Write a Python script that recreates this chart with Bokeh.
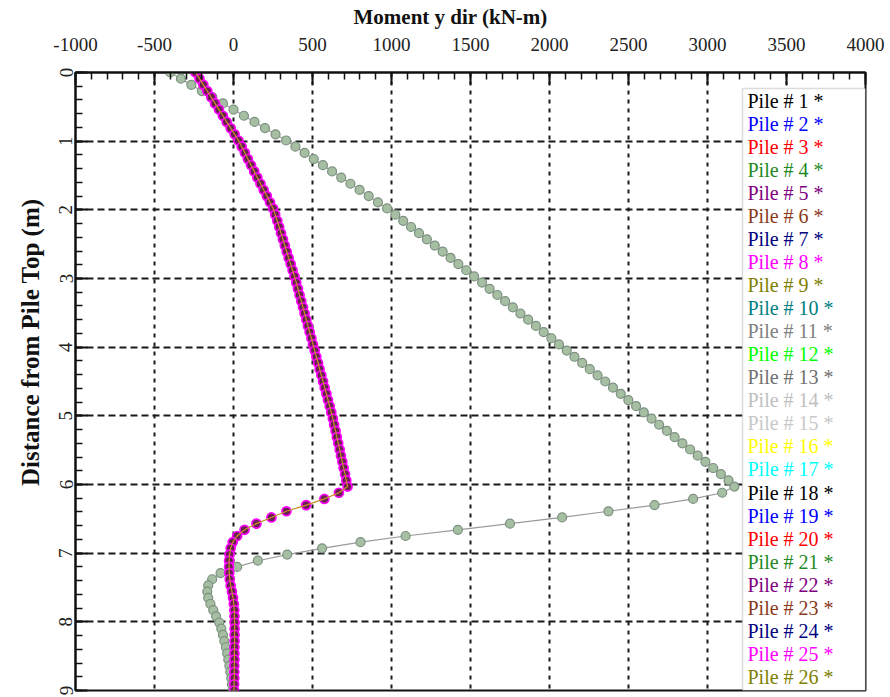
from bokeh.plotting import figure
from bokeh.models import Range1d, SingleIntervalTicker, BoxAnnotation, ColumnDataSource, PrintfTickFormatter, Title
from bokeh.core.properties import value
from bokeh.embed import file_html
from bokeh.resources import INLINE

# ---------------- data ----------------
depth_m = [0.00, 0.09, 0.18, 0.27, 0.36, 0.45, 0.54, 0.63, 0.72, 0.81,
           0.90, 0.99, 1.08, 1.17, 1.26, 1.35, 1.44, 1.53, 1.62, 1.71,
           1.80, 1.89, 1.98, 2.07, 2.16, 2.25, 2.34, 2.43, 2.52, 2.61,
           2.70, 2.79, 2.88, 2.97, 3.06, 3.15, 3.24, 3.33, 3.42, 3.51,
           3.60, 3.69, 3.78, 3.87, 3.96, 4.05, 4.14, 4.23, 4.32, 4.41,
           4.50, 4.59, 4.68, 4.77, 4.86, 4.95, 5.04, 5.13, 5.22, 5.31,
           5.40, 5.49, 5.58, 5.67, 5.76, 5.85, 5.94, 6.03, 6.12, 6.21,
           6.30, 6.39, 6.48, 6.57, 6.66, 6.75, 6.84, 6.93, 7.02, 7.11,
           7.20, 7.29, 7.38, 7.47, 7.56, 7.65, 7.74, 7.83, 7.92, 8.01,
           8.10, 8.19, 8.28, 8.37, 8.46, 8.55, 8.64, 8.73, 8.82, 8.91, 9.00]

# piles following the large-moment profile (grey-green markers)
moment_group_b = [-400, -333, -267, -200, -134, -67, 0, 66, 133, 199,
                  266, 333, 392, 450, 508, 566, 624, 682, 740, 798,
                  856, 914, 972, 1024, 1074, 1124, 1174, 1224, 1274, 1324,
                  1374, 1423, 1473, 1523, 1573, 1621, 1670, 1719, 1768, 1816,
                  1865, 1914, 1963, 2012, 2060, 2109, 2158, 2207, 2255, 2304,
                  2353, 2402, 2451, 2499, 2548, 2597, 2646, 2694, 2743, 2792,
                  2841, 2890, 2938, 2987, 3036, 3085, 3133, 3170, 3093, 2909,
                  2665, 2373, 2080, 1750, 1420, 1089, 804, 561, 340, 154,
                  23, -82, -135, -160, -166, -160, -146, -128, -110, -90,
                  -77, -67, -58, -48, -40, -33, -26, -20, -14, -10, -6]

# piles following the smaller-moment profile (magenta markers)
moment_group_a = [-240, -215, -191, -166, -141, -117, -92, -67, -43, -18,
                  7, 31, 52, 72, 91, 111, 131, 151, 171, 191,
                  211, 231, 251, 264, 277, 289, 301, 313, 325, 337,
                  349, 362, 374, 386, 397, 408, 418, 429, 440, 450,
                  461, 471, 482, 493, 503, 514, 524, 535, 545, 556,
                  567, 577, 588, 598, 609, 619, 629, 637, 646, 654,
                  663, 672, 680, 689, 697, 706, 714, 722, 667, 575,
                  460, 335, 240, 145, 70, 23, -5, -18, -25, -28,
                  -28, -27, -24, -18, -10, -3, 2, 5, 6, 7,
                  7, 7, 7, 6, 6, 6, 5, 5, 5, 4, 4]

pile_numbers = list(range(1, 27))
pile_labels = ["Pile # %d *" % n for n in pile_numbers]
pile_colors = ["#000000", "#0000ff", "#ff0000", "#1f8a1f", "#800080", "#8b3a1a",
               "#000080", "#ff00ff", "#808000", "#008080", "#808080", "#00ff00",
               "#707070", "#c0c0c0", "#c8c8c8", "#ffff00", "#00ffff",
               "#000000", "#0000ff", "#ff0000", "#1f8a1f", "#800080", "#8b3a1a",
               "#000080", "#ff00ff", "#808000"]

x_ticks_step = 500
y_ticks_step = 1

# ---------------- layout ----------------
X0, X1 = -1000, 4000
Y0, Y1 = 0, 9
W, H = 890, 697
BL, BR, BT, BB = 75, 25, 71, 7
FW, FH = W - BL - BR, H - BT - BB
SERIF = "Liberation Serif"

def to_dx(px):
    return X0 + (px - BL) / FW * (X1 - X0)

def to_dy(py):
    return Y0 + (py - BT) / FH * (Y1 - Y0)

p = figure(width=W, height=H, output_backend="svg", toolbar_location=None,
           x_range=Range1d(X0, X1), y_range=Range1d(Y1, Y0),
           x_axis_location="above",
           min_border_left=BL, min_border_right=BR,
           min_border_top=BT, min_border_bottom=BB)
p.background_fill_color = "white"
p.border_fill_color = "white"
p.outline_line_color = "#111111"
p.outline_line_width = 2

# title
p.title.text = "Moment y dir (kN-m)"
p.title.align = "left"
p.title.offset = 278
p.title.text_font = SERIF
p.title.text_font_size = "21px"
p.title.text_font_style = "bold"
p.title.text_color = "#111111"
p.title.standoff = 8
p.title.vertical_align = "top"

# axes
xt = SingleIntervalTicker(interval=x_ticks_step, num_minor_ticks=5)
yt = SingleIntervalTicker(interval=y_ticks_step, num_minor_ticks=5)
p.xaxis.ticker = xt
p.yaxis.ticker = yt
p.xgrid.ticker = xt
p.ygrid.ticker = yt

for ax in (p.xaxis[0], p.yaxis[0]):
    ax.formatter = PrintfTickFormatter(format="%d")
    ax.major_label_text_font = SERIF
    ax.major_label_text_font_size = "19px"
    ax.major_label_text_color = "#222222"
    ax.axis_line_color = "#111111"
    ax.axis_line_width = 2
    ax.major_tick_in = 12
    ax.major_tick_out = 0
    ax.minor_tick_in = 7
    ax.minor_tick_out = 0
    ax.major_tick_line_color = "#111111"
    ax.major_tick_line_width = 2
    ax.minor_tick_line_color = "#111111"
    ax.minor_tick_line_width = 1.5

p.xaxis.major_label_standoff = 22
p.yaxis.major_label_standoff = 3
p.yaxis.major_label_orientation = "vertical"

# y-axis title as a side title so it can be placed like the reference
ytitle = Title(text="Distance from Pile Top (m)", align="right", offset=126,
               text_font=SERIF, text_font_size="25px", text_font_style="bold",
               text_color="#111111", standoff=22, vertical_align="top")
p.add_layout(ytitle, "left")

# grid
p.xgrid.grid_line_color = "#1a1a1a"
p.xgrid.grid_line_width = 2
p.xgrid.grid_line_dash = "4 5"
p.ygrid.grid_line_color = "#1a1a1a"
p.ygrid.grid_line_width = 2
p.ygrid.grid_line_dash = "7 4"

# legend box (drawn under glyphs, above grid)
box = BoxAnnotation(left=to_dx(742), right=X1, top=to_dy(87), bottom=Y1,
                    fill_color="white", fill_alpha=1.0,
                    line_color="#8c8c8c", line_width=1.5, level="underlay")
p.add_layout(box)

# curves
src_b = ColumnDataSource(dict(x=moment_group_b, y=depth_m))
src_a = ColumnDataSource(dict(x=moment_group_a, y=depth_m))

p.line("x", "y", source=src_b, line_color="#9a9a9a", line_width=1.2)
p.scatter("x", "y", source=src_b, marker="circle", size=9,
          fill_color="#a6bea2", line_color="#7c9080", line_width=1.2)

p.scatter("x", "y", source=src_a, marker="circle", size=9,
          fill_color="#6b2050", line_color="#ff00ff", line_width=1.7)
p.line("x", "y", source=src_a, line_color="#c8902a", line_width=1.2)

# legend texts
leg_x = [to_dx(747)] * len(pile_labels)
leg_y = [to_dy(100 + 23.04 * k) for k in range(len(pile_labels))]
leg_src = ColumnDataSource(dict(x=leg_x, y=leg_y, t=pile_labels, c=pile_colors))
p.text("x", "y", text="t", source=leg_src, text_color="c",
       text_font=value(SERIF), text_font_size="20px",
       text_baseline="middle", text_align="left")

open("out.html", "w").write(file_html(p, INLINE))
